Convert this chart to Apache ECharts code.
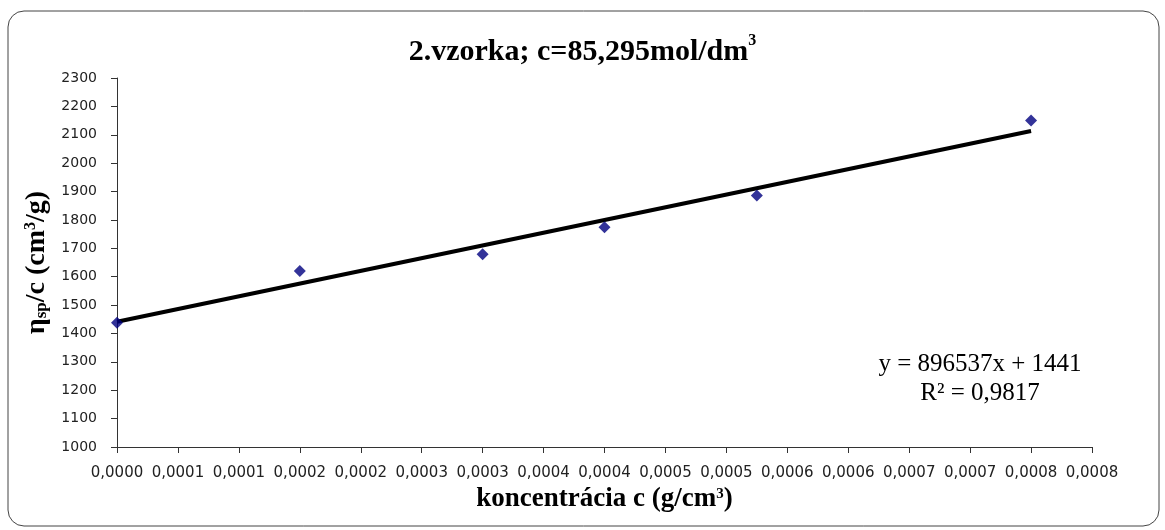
<!DOCTYPE html>
<html>
<head>
<meta charset="utf-8">
<script src="https://cdn.jsdelivr.net/npm/echarts@6/dist/echarts.min.js"></script>
<style>
html,body{margin:0;padding:0;background:#fff;}
#chart{width:1165px;height:530px;}
</style>
</head>
<body>
<div id="chart"></div>
<script>
// Data
const concentration = [0, 0.00015, 0.0003, 0.0004, 0.000525, 0.00075];
const viscosity = [1438, 1620, 1679, 1774, 1886, 2150];
// Excel linear trendline (y = 896537x + 1441), drawn over the data range
const trendX = [0, 0.00075];
const trendY = [1441, 2113];
const xTickLabels = ['0,0000','0,0001','0,0001','0,0002','0,0002','0,0003','0,0003','0,0004','0,0004',
                     '0,0005','0,0005','0,0006','0,0006','0,0007','0,0007','0,0008','0,0008'];
const xStep = 0.00005;
const equationLines = ['y = 896537x + 1441', 'R² = 0,9817'];

const chart = echarts.init(document.getElementById('chart'), null, {renderer: 'canvas'});
const serif = '"Liberation Serif", "Times New Roman", serif';
const sans = '"DejaVu Sans", sans-serif';

const option = {
  backgroundColor: '#ffffff',
  animation: false,
  title: {
    text: '{m|2.vzorka; c=85,295mol/dm}{s|3}',
    left: 'center',
    top: 28,
    textStyle: {
      rich: {
        m: {fontFamily: serif, fontWeight: 'bold', fontSize: 30, color: '#000', verticalAlign: 'bottom', lineHeight: 34},
        s: {fontFamily: serif, fontWeight: 'bold', fontSize: 16, color: '#000', verticalAlign: 'top', lineHeight: 34, padding: [0,0,5,0]}
      }
    }
  },
  grid: {left: 117, right: 73, top: 78, bottom: 83, containLabel: false},
  xAxis: {
    type: 'value',
    min: 0, max: 0.0008, interval: xStep,
    name: '{m|koncentrácia c (g/cm}{s|3}{m|)}',
    nameLocation: 'middle',
    nameGap: 37,
    nameTextStyle: {
      rich: {
        m: {fontFamily: serif, fontWeight: 'bold', fontSize: 27, color: '#000', lineHeight: 30},
        s: {fontFamily: serif, fontWeight: 'bold', fontSize: 15, color: '#000', lineHeight: 30, padding: [0,0,10,0]}
      }
    },
    axisLine: {show: true, lineStyle: {color: '#333', width: 1}},
    axisTick: {show: true, length: 6, inside: false, lineStyle: {color: '#333'}},
    axisLabel: {
      margin: 19,
      fontFamily: sans, fontSize: 15, color: '#222',
      formatter: function (v) { return xTickLabels[Math.round(v / xStep)]; }
    },
    splitLine: {show: false}
  },
  yAxis: {
    type: 'value',
    min: 1000, max: 2300, interval: 100,
    name: '{m|η}{b|sp}{m|/c (cm}{s|3}{m|/g)}',
    nameLocation: 'middle',
    nameRotate: 90,
    nameGap: 64,
    nameTextStyle: {
      rich: {
        m: {fontFamily: serif, fontWeight: 'bold', fontSize: 28, color: '#000', lineHeight: 30},
        b: {fontFamily: serif, fontWeight: 'bold', fontSize: 17, color: '#000', lineHeight: 30, padding: [10,0,0,0]},
        s: {fontFamily: serif, fontWeight: 'bold', fontSize: 16, color: '#000', lineHeight: 30, padding: [0,0,12,0]}
      }
    },
    axisLine: {show: true, lineStyle: {color: '#333', width: 1}},
    axisTick: {show: true, length: 6, inside: false, lineStyle: {color: '#333'}},
    axisLabel: {margin: 20, fontFamily: sans, fontSize: 14, color: '#222',
      formatter: function (v) { return String(v); }},
    splitLine: {show: false}
  },
  graphic: [
    {
      type: 'rect', z: -10, silent: true,
      shape: {x: 8, y: 11, width: 1151, height: 515, r: 16},
      style: {fill: '#fff', stroke: '#444', lineWidth: 1}
    },
    {
      type: 'text', x: 980, y: 350,
      style: {
        text: equationLines.join('\n'),
        fontFamily: serif, fontSize: 25, fill: '#000',
        align: 'center', verticalAlign: 'top', lineHeight: 29
      }
    }
  ],
  series: [
    {
      type: 'line',
      data: trendX.map((x, i) => [x, trendY[i]]),
      symbol: 'none',
      lineStyle: {color: '#000', width: 4},
      z: 2
    },
    {
      type: 'scatter',
      data: concentration.map((x, i) => [x, viscosity[i]]),
      symbol: 'diamond',
      symbolSize: 12,
      itemStyle: {color: '#000080'},
      z: 3
    }
  ]
};
chart.setOption(option);
</script>
</body>
</html>
